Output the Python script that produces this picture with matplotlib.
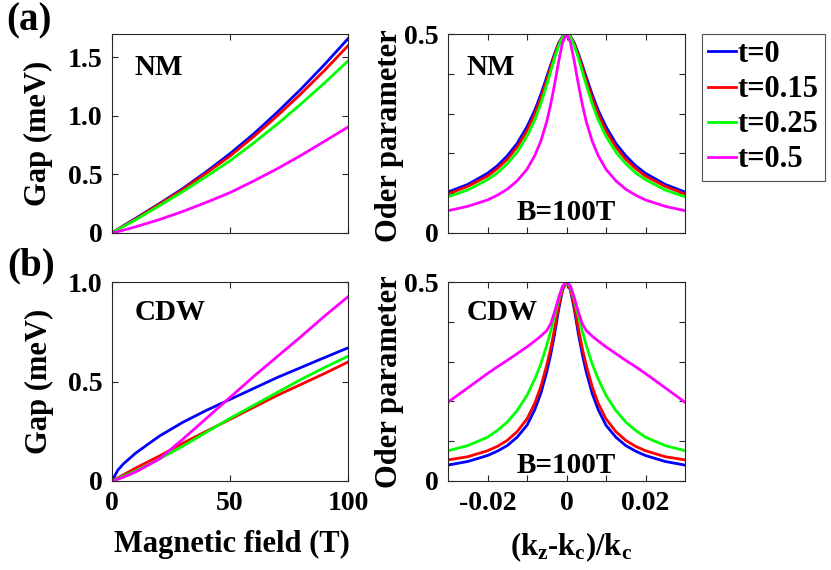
import numpy as np
import matplotlib
matplotlib.use('Agg')
import matplotlib.pyplot as plt
from matplotlib.lines import Line2D

# fuente tipo Times en negrita
plt.rcParams['font.family'] = ['Liberation Serif', 'DejaVu Serif']
plt.rcParams['font.weight'] = 'bold'
plt.rcParams['mathtext.fontset'] = 'custom'
plt.rcParams['mathtext.rm'] = 'Liberation Serif:bold'
plt.rcParams['mathtext.it'] = 'Liberation Serif:bold'
plt.rcParams['mathtext.bf'] = 'Liberation Serif:bold'

# ---- datos ----
t_labels = ['t=0', 't=0.15', 't=0.25', 't=0.5']
colores = ['#0000ff', '#ff0000', '#00ff00', '#ff00ff']

B = [0, 2.5, 5, 10, 20, 30, 40, 50, 60, 70, 80, 90, 100]

gap_nm_t0 = [0, 0.032, 0.064, 0.125, 0.25, 0.38, 0.524, 0.678, 0.846, 1.031, 1.228, 1.438, 1.66]
gap_nm_t015 = [0, 0.031, 0.061, 0.12, 0.245, 0.372, 0.512, 0.657, 0.823, 1.0, 1.188, 1.388, 1.60]
gap_nm_t025 = [0, 0.029, 0.057, 0.113, 0.232, 0.354, 0.483, 0.617, 0.769, 0.93, 1.101, 1.281, 1.47]
gap_nm_t05 = [0, 0.012, 0.025, 0.053, 0.114, 0.184, 0.262, 0.345, 0.444, 0.549, 0.662, 0.783, 0.905]

gap_cdw_t0 = [0, 0.055, 0.088, 0.14, 0.225, 0.295, 0.355, 0.41, 0.465, 0.52, 0.57, 0.62, 0.669]
gap_cdw_t015 = [0, 0.016, 0.032, 0.065, 0.125, 0.19, 0.25, 0.31, 0.37, 0.43, 0.485, 0.54, 0.598]
gap_cdw_t025 = [0, 0.012, 0.025, 0.05, 0.11, 0.175, 0.245, 0.315, 0.38, 0.445, 0.51, 0.57, 0.627]
gap_cdw_t05 = [0, 0.009, 0.02, 0.045, 0.11, 0.21, 0.315, 0.42, 0.525, 0.625, 0.725, 0.828, 0.926]

# (kz-kc)/kc, lado positivo (las curvas son simetricas)
dk = [0, 0.001, 0.002, 0.003, 0.004, 0.005, 0.0065, 0.008, 0.01, 0.0125, 0.015, 0.0175, 0.02, 0.025, 0.03]

op_nm_t0 = [0.5, 0.494, 0.477, 0.451, 0.422, 0.392, 0.348, 0.309, 0.267, 0.225, 0.194, 0.169, 0.150, 0.122, 0.103]
op_nm_t015 = [0.5, 0.493, 0.474, 0.447, 0.416, 0.384, 0.339, 0.300, 0.257, 0.216, 0.185, 0.162, 0.143, 0.117, 0.098]
op_nm_t025 = [0.5, 0.492, 0.470, 0.440, 0.406, 0.372, 0.325, 0.285, 0.243, 0.203, 0.174, 0.151, 0.134, 0.108, 0.091]
op_nm_t05 = [0.5, 0.479, 0.430, 0.374, 0.323, 0.280, 0.231, 0.195, 0.160, 0.131, 0.110, 0.095, 0.083, 0.067, 0.056]

op_cdw_t0 = [0.5, 0.48, 0.43, 0.37, 0.318, 0.274, 0.22, 0.18, 0.14, 0.11, 0.089, 0.075, 0.064, 0.049, 0.040]
op_cdw_t015 = [0.5, 0.482, 0.438, 0.383, 0.333, 0.291, 0.237, 0.196, 0.156, 0.124, 0.102, 0.087, 0.076, 0.061, 0.053]
op_cdw_t025 = [0.5, 0.488, 0.455, 0.414, 0.376, 0.341, 0.294, 0.257, 0.215, 0.177, 0.148, 0.127, 0.11, 0.089, 0.076]
op_cdw_t05 = [0.5, 0.49, 0.46, 0.425, 0.395, 0.378, 0.364, 0.352, 0.337, 0.32, 0.303, 0.287, 0.27, 0.234, 0.198]


def espejo(x, y):
    x = np.asarray(x)
    y = np.asarray(y)
    return np.concatenate([-x[::-1], x[1:]]), np.concatenate([y[::-1], y[1:]])


W, H = 831, 570
fig = plt.figure(figsize=(W / 100, H / 100), dpi=100)


def caja(x0, y0, x1, y1):
    return [x0 / W, 1 - y1 / H, (x1 - x0) / W, (y1 - y0) / H]


ax_a1 = fig.add_axes(caja(112, 34, 348, 233))
ax_a2 = fig.add_axes(caja(448, 34, 685, 233))
ax_b1 = fig.add_axes(caja(112, 282, 348, 481))
ax_b2 = fig.add_axes(caja(448, 282, 685, 481))

gris = '#262626'
lw = 2.0

for ax in [ax_a1, ax_a2, ax_b1, ax_b2]:
    ax.tick_params(direction='in', top=True, right=True, length=4, width=0.8,
                   color=gris, labelsize=20, pad=7)
    for s in ax.spines.values():
        s.set_color(gris)
        s.set_linewidth(0.8)

# (a) izquierda
for y, c in zip([gap_nm_t0, gap_nm_t015, gap_nm_t025, gap_nm_t05], colores):
    ax_a1.plot(B, y, color=c, lw=lw)
ax_a1.set_xlim(0, 100)
ax_a1.set_ylim(0, 1.7)
ax_a1.set_xticks([0, 50, 100])
ax_a1.set_xticklabels([])
ax_a1.set_yticks([0, 0.5, 1.0, 1.5])
ax_a1.set_yticklabels(['0', '0.5', '1.0', '1.5'])
ax_a1.text(0.097, 0.794, 'NM', transform=ax_a1.transAxes, fontsize=21)

# (b) izquierda
for y, c in zip([gap_cdw_t0, gap_cdw_t015, gap_cdw_t025, gap_cdw_t05], colores):
    ax_b1.plot(B, y, color=c, lw=lw)
ax_b1.set_xlim(0, 100)
ax_b1.set_ylim(0, 1.0)
ax_b1.set_xticks([0, 50, 100])
ax_b1.set_xticklabels(['0', '50', '100'])
ax_b1.set_yticks([0, 0.5, 1.0])
ax_b1.set_yticklabels(['0', '0.5', '1.0'])
ax_b1.text(0.097, 0.81, 'CDW', transform=ax_b1.transAxes, fontsize=21)

# paneles derechos
for ax, series, nombre, yb in [(ax_a2, [op_nm_t0, op_nm_t015, op_nm_t025, op_nm_t05], 'NM', 0.065),
                               (ax_b2, [op_cdw_t0, op_cdw_t015, op_cdw_t025, op_cdw_t05], 'CDW', 0.039)]:
    for y, c in zip(series, colores):
        xx, yy = espejo(dk, y)
        ax.plot(xx, yy, color=c, lw=lw)
    ax.set_xlim(-0.03, 0.03)
    ax.set_ylim(0, 0.5)
    ax.set_xticks([-0.02, -0.01, 0, 0.01, 0.02])
    ax.set_yticks([0, 0.1, 0.2, 0.3, 0.4, 0.5])
    ax.set_yticklabels(['0', '', '', '', '', '0.5'])
    ax.text(0.08, 0.794 if nombre == 'NM' else 0.81, nombre, transform=ax.transAxes, fontsize=21)
    ax.text(0.29, yb, 'B=100T', transform=ax.transAxes, fontsize=21)

ax_a2.set_xticklabels([])
ax_b2.set_xticklabels(['-0.02', '', '0', '', '0.02'])


# etiquetas de ejes
def px(x, y):
    return x / W, 1 - y / H


fig.text(*px(38.5, 133.5), 'Gap (meV)', rotation=90, ha='center', va='center', fontsize=22)
fig.text(*px(39.5, 381.5), 'Gap (meV)', rotation=90, ha='center', va='center', fontsize=22)
fig.text(*px(389, 136), 'Oder parameter', rotation=90, ha='center', va='center', fontsize=22)
fig.text(*px(389, 381.5), 'Oder parameter', rotation=90, ha='center', va='center', fontsize=22)
fig.text(*px(232, 551.7), 'Magnetic field (T)', ha='center', va='baseline', fontsize=22)
fig.text(*px(571, 555), r'(k$_\mathrm{z}$-k$_\mathrm{c}$)/k$_\mathrm{c}$', ha='center',
         va='baseline', fontsize=22)
fig.text(*px(29, 21), '(a)', ha='center', va='center', fontsize=28)
fig.text(*px(31, 266), '(b)', ha='center', va='center', fontsize=28)

# leyenda
handles = [Line2D([], [], color=c, lw=lw) for c in colores]
leg = fig.legend(handles, t_labels, loc='upper left', bbox_to_anchor=px(702, 34),
                 borderaxespad=0, fancybox=False, fontsize=22, handlelength=0.92,
                 handletextpad=0.05, borderpad=0.2, labelspacing=0.2)
leg.get_frame().set_edgecolor(gris)
leg.get_frame().set_linewidth(0.8)

fig.savefig('out.png', dpi=100)
